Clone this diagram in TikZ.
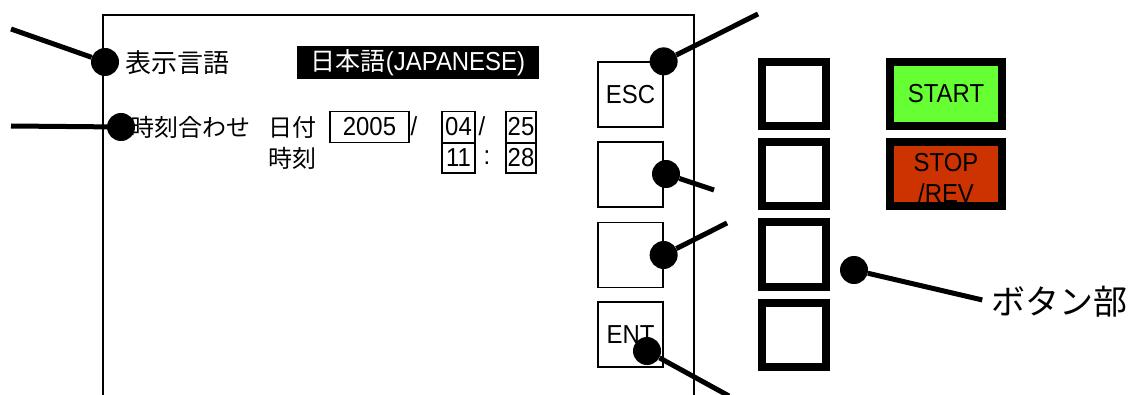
\documentclass[tikz,border=0pt]{standalone}
\usepackage{fontspec}
\setmainfont{Liberation Sans}[FakeStretch=0.92]
\newfontfamily\jp{Noto Sans CJK JP}
\usepackage{xcolor}
\usetikzlibrary{positioning}

\definecolor{startgreen}{HTML}{66FF33}
\definecolor{stopred}{HTML}{CC3300}

\begin{document}
\begin{tikzpicture}[x=1pt, y=-1pt, font=\fontsize{26}{31}\selectfont,
  lbl/.style={inner sep=0pt, anchor=west},
  small/.style={font=\fontsize{24}{28}\selectfont},
  field/.style={draw, line width=1.3pt, inner sep=0pt, minimum height=31pt},
  key/.style={draw, line width=1.3pt, minimum width=65pt, minimum height=65pt, inner sep=0pt},
  btn/.style={draw, line width=8pt, minimum width=64pt, minimum height=64pt, inner sep=0pt},
  pin/.style={circle, fill=black, inner sep=0pt, minimum size=28pt},
  lead/.style={line width=5pt}]
\useasboundingbox (0,0) rectangle (1131,395);
% operation panel outline (runs off the bottom)
\draw[line width=1.3pt] (103,395) |- (694,15) -- (694,395);
% display language row
\node[lbl] (langlbl) at (125,63) {\jp 表示言語};
\node[fill=black, text=white, minimum width=242pt, minimum height=33pt, inner sep=0pt] (langval) at (418,62.5) {{\jp\fontsize{25}{28}\selectfont 日本語}(JAPANESE)};
% clock setting rows
\node[lbl, small] (clocklbl) at (130,127) {\jp 時刻合わせ};
\node[lbl, small] (datelbl) at (268,127) {\jp 日付};
\node[lbl, small] (timelbl) at (268,158) {\jp 時刻};
\node[field, minimum width=79pt] (year) at (369.5,127) {2005};
\node (slash1) at (414,126) {/};
\node[field, minimum width=33pt] (month) at (458.5,127) {04};
\node (slash2) at (482,126) {/};
\node[field, minimum width=30pt] (day) at (521,127) {25};
\node[field, minimum width=33pt, minimum height=30pt] (hour) at (458.5,158) {11};
\node (colon) at (487,158) {:};
\node[field, minimum width=30pt, minimum height=30pt] (minute) at (521,158) {28};
% keys on the panel
\foreach \name/\y/\txt in {esc/94.5/ESC, kb/174.5/, kc/255/, ent/334.5/ENT}
  \node[key] (\name) at (630.5,\y) {\txt};
% push buttons
\foreach \i/\y in {1/94,2/174,3/254.5,4/334.5}
  \node[btn] (b\i) at (794,\y) {};
\node[btn, fill=startgreen, minimum width=112pt] (start) at (946,94) {START};
\node[btn, fill=stopred, minimum width=112pt, outer sep=0pt] (stop) at (946,174) {};
% label runs past the frame, so the frame goes on top again
\node[align=center, inner sep=0pt] (stoptxt) at (946,178) {STOP\\/REV};
\draw[line width=8pt] (stop.south west) rectangle (stop.north east);
\node[lbl, font=\fontsize{34}{38}\selectfont] (btnlbl) at (991,302) {\jp ボタン部};
% leader ends
\coordinate (langend) at (11,29);
\coordinate (clockend) at (11,126);
\coordinate (escend) at (758,14);
\coordinate (kbend) at (714,190);
\coordinate (kcend) at (727,223);
\coordinate (entend) at (729,396);
% pins
\node[pin] (langpin) at (105,62) {};
\node[pin] (clockpin) at (121,127) {};
\node[pin] (escpin) at (esc.north east) {};
\node[pin] (kbpin) at (666,174) {};
\node[pin] (kcpin) at (kc.east) {};
\node[pin] (entpin) at (647,351) {};
\node[pin] (btnpin) at (854,270) {};
% leaders
\draw[lead] (langend) -- (langpin);
\draw[lead] (clockend) -- (clockpin);
\draw[lead] (escend) -- (escpin);
\draw[lead] (kbend) -- (kbpin);
\draw[lead] (kcend) -- (kcpin);
\draw[lead] (entend) -- (entpin);
\draw[lead, shorten >=9pt] (btnpin) -- (btnlbl.west);
\end{tikzpicture}
\end{document}
